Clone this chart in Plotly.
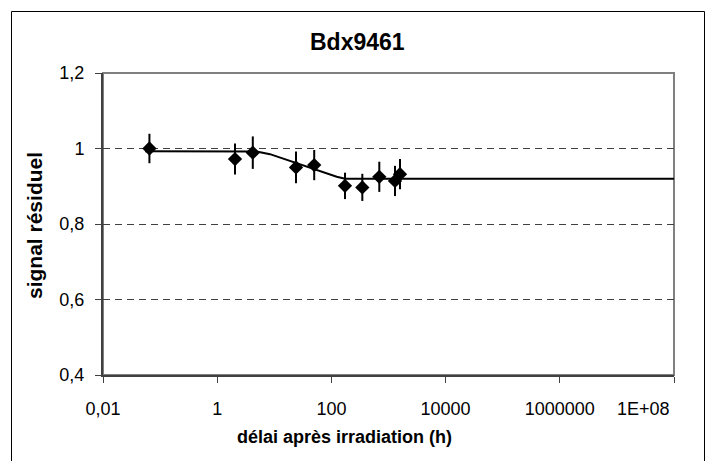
import plotly.graph_objects as go

# measured points
delay_h = [0.065, 2.05, 4.2, 24, 50, 173, 348, 690, 1300, 1590]
signal = [1.000, 0.972, 0.989, 0.950, 0.956, 0.901, 0.897, 0.925, 0.914, 0.932]
signal_err = [0.039, 0.041, 0.043, 0.042, 0.040, 0.035, 0.036, 0.040, 0.040, 0.040]

# fitted curve
fit_t = [0.055, 1, 4.9, 8.4, 12.6, 21.5, 42, 72, 124, 173, 1000, 1e5, 1e8]
fit_y = [0.993, 0.993, 0.992, 0.985, 0.976, 0.963, 0.950, 0.936, 0.925, 0.920, 0.920, 0.920, 0.920]

x_tickvals = [0.01, 1, 100, 1e4, 1e6, 1e8]
x_ticktext = ["0,01", "1", "100", "10000", "1000000", "1E+08"]
y_tickvals = [0.4, 0.6, 0.8, 1.0, 1.2]
y_ticktext = ["0,4", "0,6", "0,8", "1", "1,2"]

title_text = "Bdx9461"
x_title = "délai après irradiation (h)"
y_title = "signal résiduel"

FONT = "Arial, Liberation Sans, sans-serif"
W, H = 706, 461
L, R, T, B = 103, 32, 73, 86
pw, ph = W - L - R, H - T - B

def px_x(p):
    return (p - L) / pw

def px_y(p):
    return (H - B - p) / ph

# the last tick label is kept inside the chart (right-aligned at the tick), as in the source
axis_ticktext = x_ticktext[:-1] + [""]

fig = go.Figure()
fig.add_trace(go.Scatter(x=fit_t, y=fit_y, mode="lines",
                         line=dict(color="black", width=2), showlegend=False))
fig.add_trace(go.Scatter(x=delay_h, y=signal, mode="markers",
                         marker=dict(symbol="diamond", size=11, color="black"),
                         error_y=dict(type="data", array=signal_err, color="black",
                                      thickness=2, width=0),
                         showlegend=False))

fig.update_layout(
    width=W, height=H, autosize=False,
    margin=dict(l=L, r=R, t=T, b=B, autoexpand=False),
    paper_bgcolor="white", plot_bgcolor="white",
    font=dict(family=FONT, size=18, color="black"),
    xaxis=dict(type="log", range=[-2, 8], tickvals=x_tickvals, ticktext=axis_ticktext,
               showgrid=False, zeroline=False, showline=True, linecolor="#404040",
               linewidth=2, ticks="outside", ticklen=6, tickcolor="#404040",
               tickfont=dict(size=18), automargin=False, ticklabelstandoff=10),
    yaxis=dict(range=[0.4, 1.2], tickvals=y_tickvals, ticktext=y_ticktext,
               showgrid=True, gridcolor="#404040", griddash="7px,5px", gridwidth=1,
               zeroline=False, showline=True, linecolor="#404040", linewidth=2,
               ticks="outside", ticklen=6, tickcolor="#404040",
               tickfont=dict(size=18), automargin=False, ticklabelstandoff=7),
    shapes=[
        dict(type="rect", xref="paper", yref="paper", x0=0, x1=1, y0=0, y1=1,
             line=dict(color="#808080", width=2), layer="below"),
        dict(type="rect", xref="paper", yref="paper",
             x0=px_x(11.5), x1=px_x(704.5), y0=px_y(480), y1=px_y(11.5),
             line=dict(color="black", width=1)),
    ],
    annotations=[
        dict(text=x_ticktext[-1], xref="x", yref="paper",
             x=8, y=px_y(409), showarrow=False, font=dict(size=18),
             xanchor="right", yanchor="middle", xshift=-2),
        dict(text=f"<b>{title_text}</b>", xref="paper", yref="paper",
             x=px_x(357), y=px_y(42), showarrow=False, font=dict(size=23),
             xanchor="center", yanchor="middle"),
        dict(text=f"<b>{x_title}</b>", xref="paper", yref="paper",
             x=px_x(344), y=px_y(437), showarrow=False, font=dict(size=18),
             xanchor="center", yanchor="middle"),
        dict(text=f"<b>{y_title}</b>", xref="paper", yref="paper",
             x=px_x(34), y=px_y(226), showarrow=False, font=dict(size=21),
             textangle=-90, xanchor="center", yanchor="middle"),
    ],
)

fig.write_html("out.html")
